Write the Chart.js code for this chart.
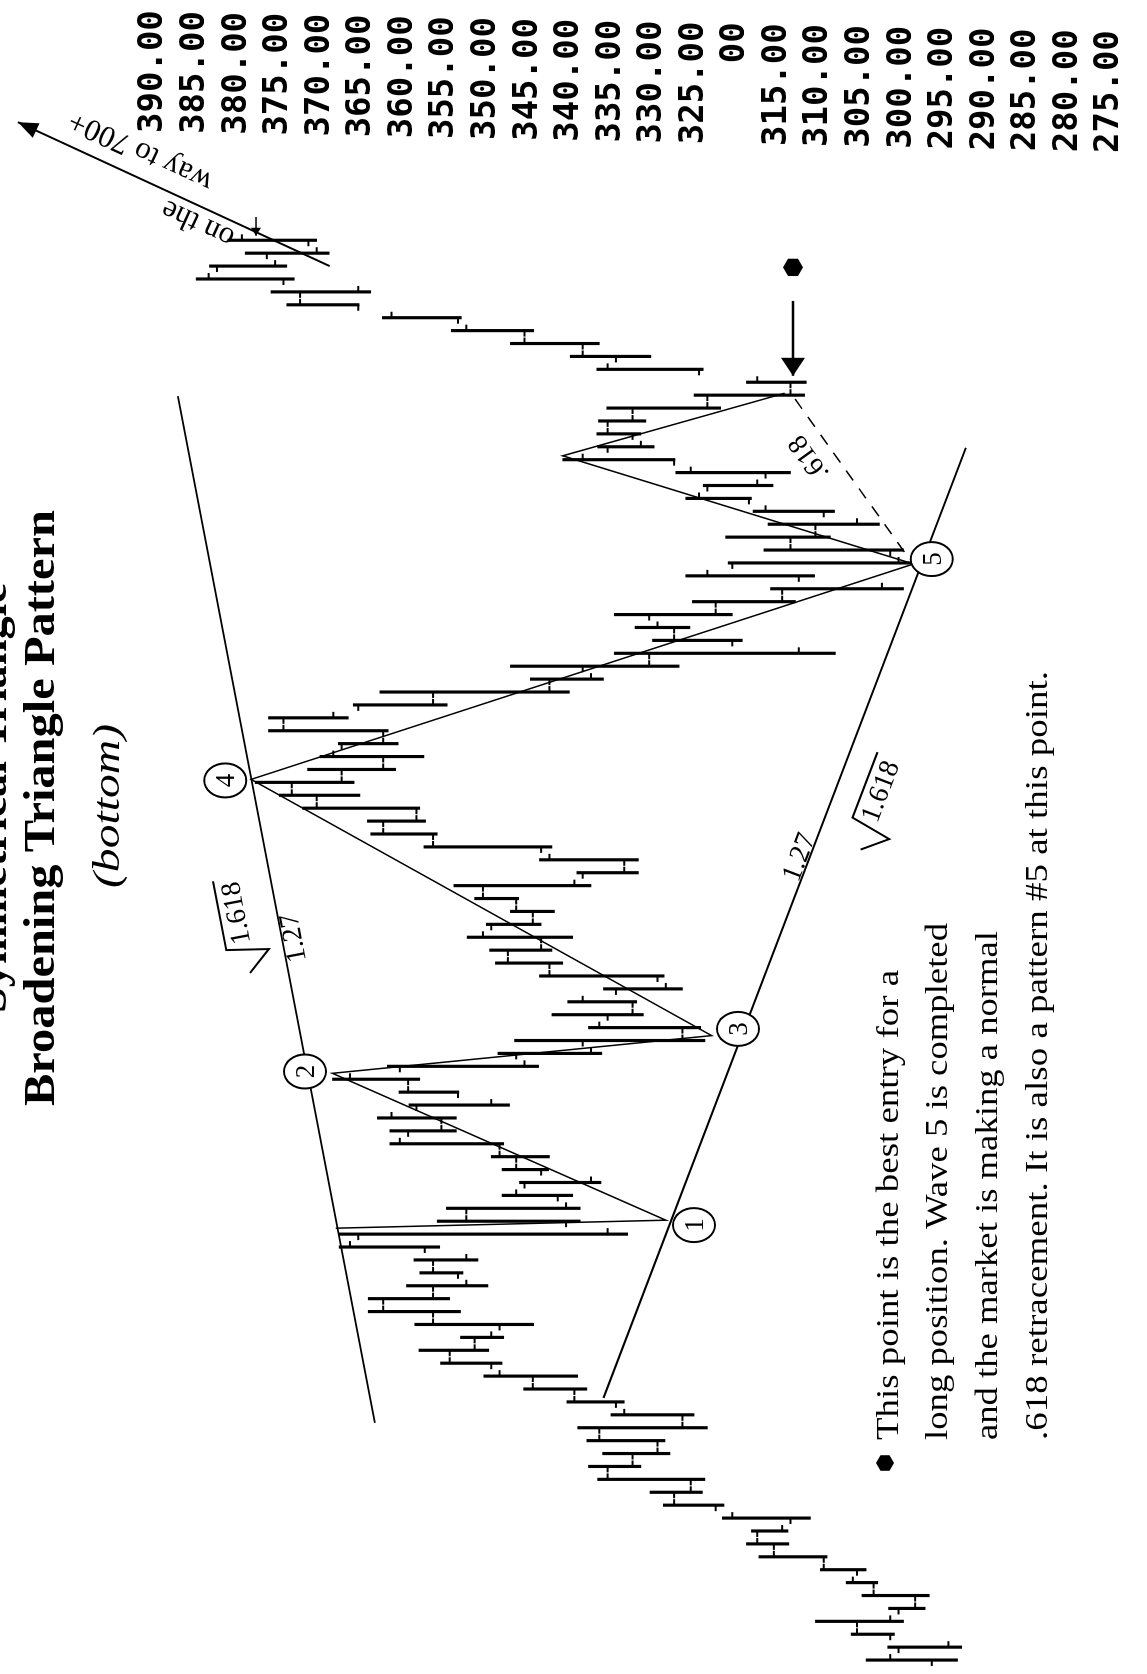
<!DOCTYPE html>
<html>
<head>
<meta charset="utf-8">
<script src="https://cdn.jsdelivr.net/npm/chart.js@4.4.0/dist/chart.umd.min.js"></script>
<style>
html, body { margin: 0; padding: 0; background: #fff; }
#page { position: relative; width: 1147px; height: 1674px; overflow: hidden; background: #fff; }
/* chart is drawn upright (time left->right) and turned a quarter turn, like the scan */
#wrap { position: absolute; left: 0; top: 0; width: 1674px; height: 1147px;
        transform-origin: 0 0; transform: translateY(1674px) rotate(-90deg); }
</style>
</head>
<body>
<div id="page"><div id="wrap"><canvas id="chart" width="1674" height="1147"></canvas></div></div>
<script>
"use strict";

// daily bars, oldest first
var highs = [303.9,301.3,305.7,310.0,301.2,304.4,306.3,309.4,316.8,318.3,
	317.7,321.2,328.3,329.9,336.2,337.3,335.6,337.5,338.6,334.6,
	339.9,345.1,349.9,355.1,357.7,352.7,358.2,363.8,363.8,359.2,
	357.6,358.3,367.3,367.3,355.5,354.4,347.7,345.6,347.7,349.0,
	361.2,361.2,362.7,358.9,360.1,368.1,361.5,348.2,346.2,337.3,
	341.7,339.8,335.5,343.2,348.5,349.2,351.9,349.6,346.7,351.0,
	353.5,338.7,343.2,357.1,363.5,363.9,371.7,374.5,377.4,371.1,
	369.6,367.4,375.8,375.8,365.6,362.4,344.3,346.7,334.2,329.6,
	331.7,334.2,324.8,315.4,325.6,320.5,316.2,320.8,315.7,317.5,
	325.6,323.5,326.8,340.4,336.2,336.3,336.1,335.1,324.6,318.3,
	336.3,339.5,346.7,353.8,362.1,373.6,375.5,384.5,382.9,378.6,
	380.7];
var lows = [292.9,292.4,300.5,299.4,296.8,296.3,302.5,303.9,308.6,313.2,
	313.3,310.6,321.0,323.6,323.3,331.0,327.5,328.1,323.0,324.6,
	333.0,337.5,338.6,347.7,349.3,347.5,343.9,352.7,354.0,349.4,
	352.4,350.6,355.2,332.6,338.3,338.3,339.2,335.8,342.1,342.0,
	347.5,353.2,353.2,346.8,352.9,357.6,343.3,335.7,323.3,323.8,
	330.7,331.5,326.0,328.2,340.4,341.7,339.2,343.0,341.4,345.7,
	337.0,331.3,331.3,341.7,355.5,356.9,357.6,364.8,365.5,360.5,
	357.1,360.2,361.4,366.2,354.3,339.6,335.5,326.4,307.6,318.8,
	325.1,320.0,312.4,299.4,310.1,298.2,299.4,308.2,302.3,307.7,
	317.7,315.1,313.0,326.9,329.4,331.0,330.4,321.4,311.3,311.1,
	323.5,329.8,336.0,343.9,352.6,364.9,363.5,372.7,373.6,368.5,
	370.0];
var opens = [296,300,301,305,300,298,303,305,309,315,
	317,313,322,327,325,335,332,329,336,326,
	334,339,344,349,354,351,348,356,362,356,
	353,356,357,365,340,352,341,345,343,346,
	348,359,355,358,353,359,360,346,338,326,
	335,332,334,329,342,347,343,349,344,346,
	350,338,333,343,356,362,358,370,373,367,
	362,367,362,374,365,356,342,338,330,320,
	327,330,322,314,312,320,301,313,310,309,
	318,323,316,327,335,332,335,332,323,313,
	324,334,338,345,353,365,372,374,382,376,
	371];
var closes = [301,294,305,301,298,303,305.5,309,315,317,
	314,320,327,325,335,332,329,336,326,333,
	339,344,348,354,351,349,356,362,356,352,
	356,352,366,335,352,340,346,337,346,348,
	360,355,361,349,359,366,345,337,326,336,
	332,338,328,342,347,343,350,344,346,350,
	339,333,342,356,362,358,370,373,367,362,
	368,362,374,368,356,342,337,330,312,327,
	329,322,314,302,323,300,313,310,305,316,
	324,317,325,338,331,335,332,323,313,317,
	335,338,345,352,361,372,365,383,375,370,
	379];

// price scale printed along the top of the scan
var priceTicks = [390,385,380,375,370,365,360,355,350,345,340,335,330,325,320,315,310,305,300,295,290,285,280,275];
var tickText = ['390.00','385.00','380.00','375.00','370.00','365.00','360.00','355.00','350.00','345.00','340.00','335.00',
	'330.00','325.00','    00','315.00','310.00','305.00','300.00','295.00','290.00','285.00','280.00','275.00'];

// wave count 0-1-2-3-4-5, then the .618 pullback
var waveIdx = [33.46, 34.08, 45.46, 48.38, 68.23, 84.92, 93.3, 98.15];
var wavePrice = [367.7, 328.0, 368.1, 322.5, 377.9, 298.2, 340.4, 313.7];

// triangle sides
var upperIdx = [18.38, 97.92];
var upperPrice = [363.0, 386.7];
var lowerIdx = [20.31, 93.92];
var lowerPrice = [335.5, 291.9];

// dashed .618 leg
var retrIdx = [85.85, 97.92];
var retrPrice = [299.3, 312.7];

// numbered circles
var pointIdx = [33.7, 45.6, 48.9, 68.15, 85.3];
var pointPrice = [324.6, 371.4, 319.3, 381.0, 296.0];
var pointText = ['1', '2', '3', '4', '5'];

// arrows
var wayIdx = [108.0, 119.15];
var wayPrice = [368.45, 405.95];
var entryIdx = [105.3, 99.5];
var entryPrice = [312.7, 312.7];
var lastIdx = [111.8, 110.35];
var lastPrice = [377.3, 377.3];
var dotIdx = 107.9, dotPrice = 312.7;

var notes = [
	'This point is the best entry for a',
	'long position. Wave 5 is completed',
	'and the market is making a normal',
	'.618 retracement. It is also a pattern #5 at this point.'
];

function pts(xs, ys) {
	return xs.map(function (x, k) { return { x: x, y: ys[k] }; });
}

function hexagon(ctx, x, y, r) {
	ctx.beginPath();
	for (var k = 0; k < 6; k++) {
		var a = Math.PI / 6 + k * Math.PI / 3;
		ctx.lineTo(x + r * Math.cos(a), y + r * Math.sin(a));
	}
	ctx.closePath();
	ctx.fill();
}

function arrowHead(ctx, x1, y1, x2, y2, len, half) {
	var a = Math.atan2(y2 - y1, x2 - x1);
	ctx.save();
	ctx.translate(x2, y2);
	ctx.rotate(a);
	ctx.beginPath();
	ctx.moveTo(0, 0);
	ctx.lineTo(-len, -half);
	ctx.lineTo(-len, half);
	ctx.closePath();
	ctx.fill();
	ctx.restore();
}

// text squeezed/stretched to the width it has in the scan
function fitText(ctx, str, x, y, width, font, align) {
	ctx.save();
	ctx.font = font;
	var w = ctx.measureText(str).width;
	ctx.translate(x, y);
	ctx.scale(width / w, 1);
	ctx.textAlign = align;
	ctx.fillText(str, 0, 0);
	ctx.restore();
}

function tiltText(ctx, str, x, y, deg, font, align, root) {
	ctx.save();
	ctx.translate(x, y);
	ctx.rotate(deg * Math.PI / 180);
	ctx.font = font;
	ctx.textAlign = align;
	ctx.fillText(str, 0, 0);
	if (root) {
		var w = ctx.measureText(str).width;
		ctx.lineWidth = 2;
		ctx.beginPath();
		ctx.moveTo(-30, -6);
		ctx.lineTo(-10, 17);
		ctx.lineTo(-3, -25);
		ctx.lineTo(w + 4, -25);
		ctx.stroke();
	}
	ctx.restore();
}

var annotations = {
	id: 'annotations',
	afterDatasetsDraw: function (chart) {
		var ctx = chart.ctx;
		var xs = chart.scales.x, ys = chart.scales.y;
		var X = function (v) { return xs.getPixelForValue(v); };
		var Y = function (v) { return ys.getPixelForValue(v); };
		ctx.save();
		ctx.fillStyle = '#000';
		ctx.strokeStyle = '#000';
		ctx.textBaseline = 'alphabetic';

		// arrow heads
		arrowHead(ctx, X(wayIdx[0]), Y(wayPrice[0]), X(wayIdx[1]), Y(wayPrice[1]), 20, 8);
		arrowHead(ctx, X(entryIdx[0]), Y(entryPrice[0]), X(entryIdx[1]), Y(entryPrice[1]), 18, 12);
		arrowHead(ctx, X(lastIdx[0]), Y(lastPrice[0]), X(lastIdx[1]), Y(lastPrice[1]), 8, 5);
		hexagon(ctx, X(dotIdx), Y(dotPrice), 10);

		// numbered points
		pointIdx.forEach(function (pi, k) {
			var cx = X(pi), cy = Y(pointPrice[k]);
			ctx.beginPath();
			ctx.ellipse(cx, cy, 17, 21, 0, 0, Math.PI * 2);
			ctx.fillStyle = '#fff';
			ctx.fill();
			ctx.lineWidth = 2;
			ctx.stroke();
			ctx.fillStyle = '#000';
			ctx.font = '27px "Liberation Serif"';
			ctx.textAlign = 'center';
			ctx.fillText(pointText[k], cx, cy + 9);
		});

		// ratio notes along the triangle sides
		var aUp = Math.atan2(Y(upperPrice[1]) - Y(upperPrice[0]), X(upperIdx[1]) - X(upperIdx[0])) * 180 / Math.PI;
		var aLo = Math.atan2(Y(lowerPrice[1]) - Y(lowerPrice[0]), X(lowerIdx[1]) - X(lowerIdx[0])) * 180 / Math.PI;
		var serif = '28px "Liberation Serif"';
		tiltText(ctx, '1.618', X(55.6), Y(378.0), aUp, serif, 'left', true);
		tiltText(ctx, '1.27', X(54.2), Y(371.3), aUp, serif, 'left', false);
		tiltText(ctx, '1.27', X(60.2), Y(312.1), aLo, serif, 'left', false);
		tiltText(ctx, '1.618', X(64.8), Y(302.6), aLo, serif, 'left', true);
		var aRe = Math.atan2(Y(retrPrice[1]) - Y(retrPrice[0]), X(retrIdx[1]) - X(retrIdx[0])) * 180 / Math.PI;
		tiltText(ctx, '.618', X(93.5), Y(310.0), aRe, serif, 'center', false);

		// "on the way to 700+" written along the arrow
		var x0 = X(wayIdx[0]), y0 = Y(wayPrice[0]), x1 = X(wayIdx[1]), y1 = Y(wayPrice[1]);
		var aW = Math.atan2(y1 - y0, x1 - x0);
		var along = function (t, off) {
			return [x0 + (x1 - x0) * t + Math.sin(aW) * off, y0 + (y1 - y0) * t - Math.cos(aW) * off];
		};
		var p1 = along(0.40, 8), p2 = along(0.64, -34);
		tiltText(ctx, 'on the', p1[0], p1[1], aW * 180 / Math.PI, '31px "Liberation Serif"', 'center', false);
		tiltText(ctx, 'way to 700+', p2[0], p2[1], aW * 180 / Math.PI, '31px "Liberation Serif"', 'center', false);

		// price scale
		ctx.font = 'bold 34px "DejaVu Sans Mono"';
		ctx.textAlign = 'left';
		priceTicks.forEach(function (p, k) {
			var u0 = 1541 - (390 - p) * 20 / 115;
			ctx.fillText(tickText[k], u0, Y(p) + 12);
		});

		// titles
		fitText(ctx, 'Symmetrical Triangle', 876, 6, 430, 'bold 44px "Liberation Serif"', 'center');
		fitText(ctx, 'Broadening Triangle Pattern', 866, 54, 596, 'bold 44px "Liberation Serif"', 'center');
		fitText(ctx, '(bottom)', 868, 119, 164, 'italic 38px "Liberation Serif"', 'center');

		// note block
		hexagon(ctx, 211, 885, 9);
		var widths = [470, 517, 509, 769];
		var bases = [898, 947, 997, 1047];
		notes.forEach(function (line, k) {
			fitText(ctx, line, 234, bases[k], widths[k], '31px "Liberation Serif"', 'left');
		});
		ctx.restore();
	}
};

var lineSet = function (data, width, dash) {
	return {
		type: 'line', data: data, borderColor: '#000', borderWidth: width, borderDash: dash || [],
		pointRadius: 0, fill: false, tension: 0
	};
};

var tickSet = function (data) {
	return {
		type: 'line', data: data, showLine: false, pointStyle: 'line', pointRadius: 3,
		pointBorderWidth: 2, pointBorderColor: '#000', borderColor: '#000', backgroundColor: '#000'
	};
};

var context = document.getElementById('chart');
var myChart = new Chart(context, {
	type: 'bar',
	data: {
		datasets: [
			{
				type: 'bar',
				data: highs.map(function (h, i) { return { x: i, y: [lows[i], h] }; }),
				backgroundColor: '#000',
				borderWidth: 0,
				barThickness: 2.5
			},
			tickSet(opens.map(function (o, i) { return { x: i - 0.23, y: o }; })),
			tickSet(closes.map(function (c, i) { return { x: i + 0.23, y: c }; })),
			lineSet(pts(waveIdx, wavePrice), 1.5),
			lineSet(pts(upperIdx, upperPrice), 2),
			lineSet(pts(lowerIdx, lowerPrice), 2),
			lineSet(pts(retrIdx, retrPrice), 1.5, [12, 10]),
			lineSet(pts(wayIdx, wayPrice), 2),
			lineSet(pts(entryIdx, entryPrice), 2.5),
			lineSet(pts(lastIdx, lastPrice), 1.5)
		]
	},
	options: {
		responsive: false,
		devicePixelRatio: 1,
		animation: false,
		layout: { padding: 0 },
		plugins: { legend: { display: false }, tooltip: { enabled: false } },
		scales: {
			x: { type: 'linear', display: false, offset: false, min: -0.615, max: 128.15 },
			y: { type: 'linear', display: false, min: 270.83, max: 407.38 }
		}
	},
	plugins: [annotations]
});
</script>
</body>
</html>
